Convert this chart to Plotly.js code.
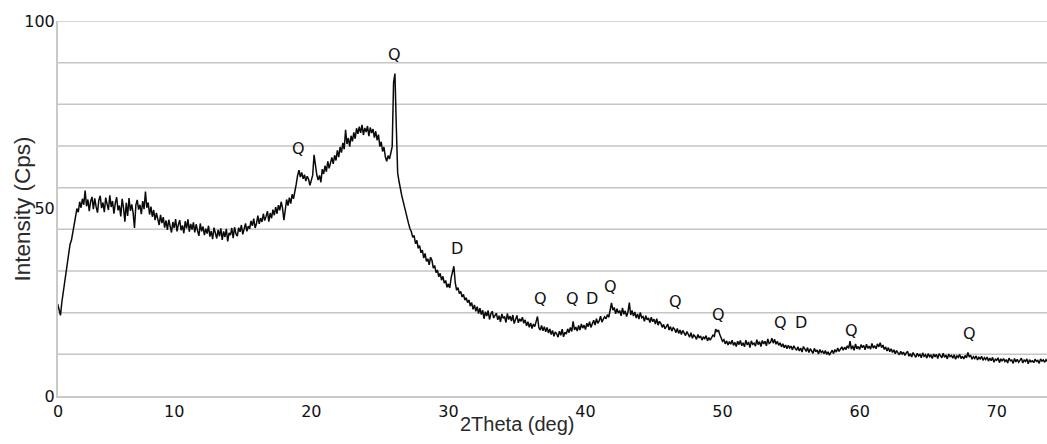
<!DOCTYPE html>
<html><head><meta charset="utf-8">
<script src="https://cdn.plot.ly/plotly-3.0.1.min.js"></script>
<style>html,body{margin:0;padding:0;background:#fff}#chart{width:1047px;height:444px}</style>
</head><body><div id="chart"></div>
<script>
// XRD scan: 2θ grid of the measurement (deg)
const scanStart = 1.5;
const scanStep = 0.1;
// Intensity (Cps), one value per 2θ step (20 values = 2° per row)
const intensity = [
  24.5, 22.5, 21.5, 25.0, 27.5, 30.5, 33.0, 35.8, 38.0, 40.5, 41.5, 44.0, 45.2, 47.8, 50.0, 49.0, 51.8, 50.2, 52.6, 51.0, // 1.5
  54.8, 50.6, 52.4, 49.3, 51.9, 53.1, 49.8, 52.7, 50.5, 48.9, 52.2, 53.4, 50.1, 51.6, 49.0, 52.9, 51.2, 49.6, 53.5, 50.4, // 3.5
  52.0, 48.6, 51.4, 53.0, 49.5, 50.8, 47.9, 52.6, 50.2, 46.5, 51.5, 48.0, 52.8, 49.4, 51.1, 48.8, 44.8, 50.9, 52.3, 49.7, // 5.5
  51.0, 48.5, 52.0, 49.8, 54.5, 50.2, 51.6, 48.4, 50.5, 47.8, 49.6, 46.9, 48.8, 47.2, 45.6, 48.3, 46.1, 47.7, 44.9, 46.8, // 7.5
  44.3, 47.0, 45.1, 43.6, 46.4, 44.8, 47.2, 43.9, 45.7, 46.9, 44.2, 45.5, 43.4, 46.6, 44.7, 47.1, 43.8, 45.9, 44.4, 46.3, // 9.5
  43.6, 45.8, 44.1, 42.7, 46.0, 43.9, 45.2, 42.9, 44.6, 43.3, 45.4, 42.5, 44.0, 41.8, 44.9, 43.2, 42.0, 44.3, 42.6, 44.7, // 11.5
  41.6, 43.9, 42.4, 44.6, 41.2, 43.5, 42.9, 44.8, 42.1, 45.0, 43.3, 42.6, 44.9, 43.8, 45.6, 43.1, 44.5, 46.0, 43.9, 45.3, // 13.5
  44.6, 46.7, 45.4, 47.3, 44.8, 46.0, 48.1, 45.9, 47.5, 46.4, 48.6, 46.8, 47.9, 49.3, 46.5, 48.8, 47.4, 49.7, 48.2, 50.4, // 15.5
  48.6, 50.9, 49.5, 51.8, 50.1, 46.9, 49.6, 52.4, 50.8, 52.9, 51.3, 53.8, 52.6, 54.2, 56.5, 58.8, 60.2, 58.4, 59.6, 57.9, // 17.5
  59.0, 57.3, 58.6, 57.8, 56.2, 57.5, 58.9, 64.3, 61.5, 59.0, 57.6, 58.8, 57.0, 60.5, 59.2, 61.4, 59.8, 62.6, 60.7, 62.1, // 19.5
  63.6, 61.9, 64.2, 62.8, 65.5, 63.7, 66.4, 64.9, 67.5, 65.8, 71.0, 67.2, 68.8, 66.5, 69.4, 67.9, 70.3, 68.6, 71.4, 69.9, // 21.5
  71.8, 70.2, 72.3, 69.6, 71.5, 70.4, 72.0, 69.3, 71.6, 70.1, 71.2, 68.9, 70.6, 68.2, 69.7, 66.5, 67.8, 65.2, 66.4, 63.8, // 23.5
  62.6, 64.1, 63.2, 64.8, 66.5, 83.5, 86.0, 72.0, 59.5, 57.2, 55.0, 53.4, 51.9, 50.2, 48.8, 47.3, 45.9, 44.6, 43.8, 42.3, // 25.5
  42.8, 40.6, 41.5, 39.4, 40.1, 38.2, 38.9, 36.8, 38.0, 35.9, 36.6, 35.0, 37.0, 36.2, 34.1, 34.8, 32.9, 33.6, 31.8, 32.7, // 27.5
  30.9, 31.9, 30.1, 30.8, 29.0, 29.9, 28.8, 31.5, 33.2, 34.6, 30.2, 28.2, 28.9, 27.3, 27.9, 26.4, 27.1, 25.6, 26.2, 24.9, // 29.5
  25.6, 24.0, 24.9, 23.1, 24.3, 22.6, 23.8, 22.0, 23.4, 21.7, 22.9, 20.6, 22.5, 21.3, 22.8, 20.4, 21.9, 22.6, 20.8, 21.7, // 31.5
  22.1, 20.3, 21.4, 19.8, 21.9, 20.7, 21.2, 19.6, 22.0, 20.4, 21.3, 20.0, 21.6, 19.3, 20.8, 21.5, 19.5, 20.6, 19.9, 21.0, // 33.5
  19.4, 20.3, 18.7, 19.8, 18.3, 19.5, 18.0, 19.2, 18.5, 19.9, 21.2, 18.2, 17.6, 18.8, 17.4, 18.5, 17.1, 18.3, 16.8, 17.9, // 35.5
  16.4, 17.5, 15.9, 17.1, 16.6, 15.7, 17.3, 16.2, 17.8, 15.8, 17.0, 16.5, 17.9, 16.9, 18.3, 17.2, 19.9, 17.6, 18.4, 17.3, // 37.5
  18.8, 17.6, 19.2, 18.1, 18.9, 17.7, 19.4, 18.5, 19.8, 18.3, 19.3, 20.2, 18.9, 20.6, 19.4, 20.0, 21.3, 19.7, 20.5, 21.1, // 39.5
  20.6, 21.7, 21.0, 22.6, 24.8, 22.9, 23.6, 21.9, 23.3, 22.1, 22.8, 21.4, 23.5, 21.8, 22.7, 21.2, 22.4, 24.9, 21.6, 22.8, // 41.5
  21.3, 22.4, 20.8, 21.9, 20.5, 22.3, 20.9, 21.2, 19.9, 21.4, 20.3, 20.8, 19.6, 21.0, 19.8, 20.5, 19.2, 20.6, 18.9, 19.9, // 43.5
  19.4, 18.3, 19.1, 17.9, 18.7, 19.2, 17.6, 18.5, 17.3, 18.2, 17.8, 16.9, 18.0, 16.7, 17.6, 16.4, 17.5, 16.8, 16.1, 17.2, // 45.5
  16.6, 15.7, 16.9, 15.4, 16.3, 15.9, 15.1, 16.4, 15.5, 16.0, 14.9, 15.8, 15.2, 16.1, 14.7, 15.6, 14.9, 15.4, 16.2, 15.9, // 47.5
  17.8, 17.2, 17.6, 16.4, 15.6, 14.6, 15.0, 13.9, 14.7, 13.6, 14.5, 13.8, 14.9, 13.5, 14.3, 13.2, 14.6, 13.7, 14.8, 13.4, // 49.5
  14.2, 13.1, 14.9, 13.6, 14.4, 12.9, 14.7, 13.8, 14.1, 13.3, 15.0, 13.7, 14.5, 13.2, 14.8, 13.9, 14.6, 13.4, 15.2, 14.0, // 51.5
  14.3, 15.4, 14.1, 15.1, 13.8, 14.6, 13.5, 14.2, 13.1, 13.9, 12.9, 13.6, 12.6, 13.5, 12.8, 13.3, 12.3, 13.4, 12.7, 12.2, // 53.5
  13.1, 12.0, 12.8, 11.7, 13.2, 12.4, 11.9, 12.9, 11.6, 12.6, 12.1, 11.4, 12.7, 11.8, 12.3, 11.2, 12.4, 11.6, 12.0, 11.3, // 55.5
  12.1, 11.1, 11.8, 10.9, 11.6, 12.2, 11.3, 12.4, 11.7, 12.8, 11.9, 12.6, 13.1, 12.2, 13.0, 12.4, 13.4, 12.7, 14.6, 12.5, // 57.5
  13.4, 12.2, 13.9, 12.6, 13.2, 12.4, 13.7, 12.9, 13.5, 12.3, 13.8, 12.7, 13.3, 12.5, 14.0, 12.8, 13.4, 12.6, 13.9, 13.1, // 59.5
  14.2, 12.9, 13.6, 12.4, 13.1, 12.0, 12.9, 11.8, 12.6, 11.6, 12.3, 11.3, 12.1, 11.5, 11.0, 11.9, 11.2, 11.7, 10.8, 11.5, // 61.5
  11.9, 10.6, 11.3, 10.4, 11.6, 10.9, 10.3, 11.4, 10.7, 11.1, 10.2, 11.5, 10.6, 11.0, 10.1, 11.3, 10.5, 10.9, 10.0, 11.2, // 63.5
  10.4, 11.1, 10.0, 11.3, 10.6, 10.2, 11.4, 10.3, 10.9, 9.9, 11.2, 10.5, 10.8, 10.1, 11.0, 9.8, 10.7, 10.3, 11.1, 10.0,   // 65.5
  10.6, 9.9, 10.8, 10.2, 11.6, 10.4, 10.9, 9.8, 10.5, 10.0, 10.7, 9.6, 10.3, 9.9, 10.6, 9.5, 10.2, 9.7, 10.4, 9.3,        // 67.5
  10.1, 9.4, 10.3, 9.0, 9.8, 9.5, 10.2, 8.9, 9.9, 9.3, 10.0, 9.2, 9.7, 8.8, 10.1, 9.4, 9.6, 8.7, 10.0, 9.1,              // 69.5
  9.8, 9.0, 9.5, 10.1, 8.8, 9.6, 9.2, 9.9, 8.6, 9.7, 9.1, 9.4, 8.9, 9.8, 9.2, 9.5, 8.7, 9.9, 9.3, 9.6,                  // 71.5
  9.0, 9.7, 9.2                                                                                                         // 73.5
];

// Axes
const xAxisStart = 1.52;
const xAxisEnd = 73.67;
const xTickVals = [1.52, 10, 20, 30, 40, 50, 60, 70];
const xTickText = ['0', '10', '20', '30', '40', '50', '60', '70'];
const yTickVals = [0, 50, 100];
const yGridVals = [11.11, 22.22, 33.33, 44.44, 55.56, 66.67, 77.78, 88.89, 100];

// Phase labels (Q = quartz, D = dolomite)
const peakLabels = ['Q', 'Q', 'D', 'Q', 'Q', 'D', 'Q', 'Q', 'Q', 'Q', 'D', 'Q', 'Q'];
const peakX = [19.10, 26.10, 30.60, 36.73, 39.07, 40.45, 41.84, 46.60, 49.69, 54.24, 55.70, 59.42, 68.05];
const peakY = [66.0, 91.1, 39.3, 26.0, 26.0, 26.0, 29.1, 25.3, 21.8, 19.5, 19.5, 17.5, 16.6];

const xTitle = '2Theta (deg)';
const yTitle = 'Intensity (Cps)';

const twoTheta = intensity.map((_, i) => +(scanStart + i * scanStep).toFixed(2));

const tickFont = {family: 'DejaVu Sans', size: 16, color: '#111111'};
const titleFamily = 'Liberation Sans, Arial, sans-serif';

const trace = {
  type: 'scatter', mode: 'lines',
  x: twoTheta, y: intensity,
  line: {color: '#0a0a0a', width: 1.5},
  hoverinfo: 'x+y', showlegend: false
};

const annotations = peakLabels.map((t, i) => ({
  text: t, x: peakX[i], y: peakY[i], xref: 'x', yref: 'y',
  showarrow: false, font: {family: 'DejaVu Sans', size: 16, color: '#111111'}
}));
annotations.push({
  text: xTitle, xref: 'paper', yref: 'paper', x: 0.4646, y: -0.0747,
  xanchor: 'center', yanchor: 'middle', showarrow: false, borderpad: 0,
  font: {family: titleFamily, size: 20, color: '#2a2a2a'}
});
annotations.push({
  text: yTitle, xref: 'paper', yref: 'paper', x: -0.0354, y: 0.5,
  xanchor: 'center', yanchor: 'middle', textangle: -90, showarrow: false,
  font: {family: titleFamily, size: 22.5, color: '#2a2a2a'}
});

const gridShapes = yGridVals.map(v => ({
  type: 'line', xref: 'paper', x0: 0, x1: 1, yref: 'y', y0: v, y1: v,
  line: {color: '#c6c6c6', width: 1.5}, layer: 'below'
}));

const layout = {
  width: 1047, height: 444,
  margin: {l: 58, r: 0, t: 21, b: 48, pad: 0},
  paper_bgcolor: '#ffffff', plot_bgcolor: '#ffffff',
  showlegend: false,
  xaxis: {
    range: [xAxisStart, xAxisEnd], tickmode: 'array', tickvals: xTickVals, ticktext: xTickText,
    showgrid: false, zeroline: false, showline: true, linecolor: '#c9c9c9', linewidth: 2,
    ticks: '', tickfont: tickFont
  },
  yaxis: {
    range: [0, 100], tickmode: 'array', tickvals: yTickVals,
    showgrid: false, zeroline: false, showline: true, linecolor: '#c9c9c9', linewidth: 2,
    ticks: '', ticklabelstandoff: -2, tickfont: tickFont
  },
  shapes: gridShapes,
  annotations: annotations
};

Plotly.newPlot('chart', [trace], layout, {displayModeBar: false, staticPlot: true});
</script>
</body></html>
